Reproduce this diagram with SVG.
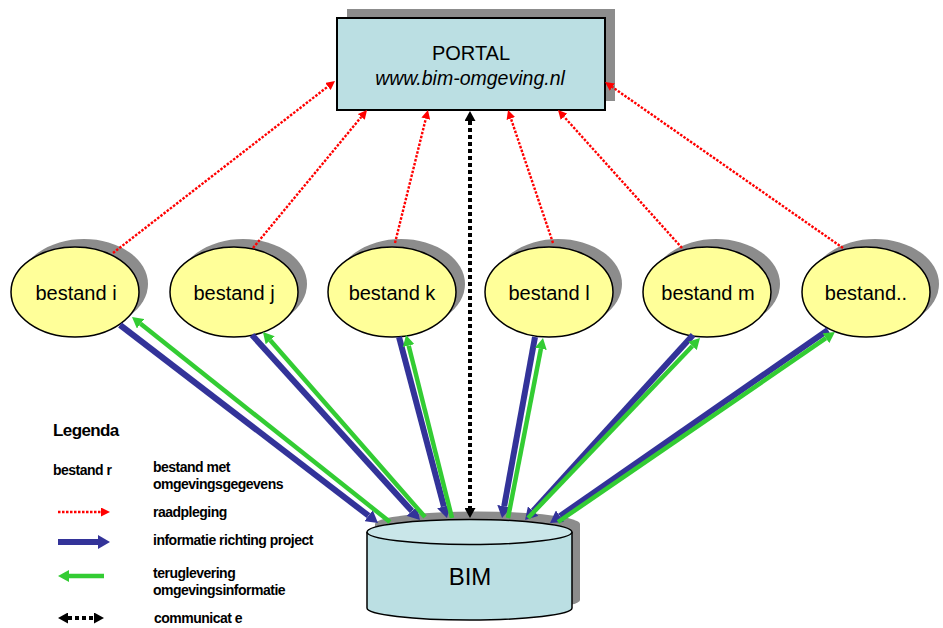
<svg xmlns="http://www.w3.org/2000/svg" width="943" height="628" viewBox="0 0 943 628">
  <defs>
    <style>
      .shadow { fill: #8c8c8c; }
      .portal { fill: #bbdfe3; stroke: #000; stroke-width: 2; }
      .file { fill: #ffff99; stroke: #000; stroke-width: 1.5; }
      .db { fill: #bbdfe3; stroke: #000; stroke-width: 1.5; }
      .dbtop { fill: #c9e6e9; stroke: #000; stroke-width: 1.5; }
      .label { font-family: "Liberation Sans", Arial, sans-serif; fill: #000; text-anchor: middle; }
      .legend { font-family: "Liberation Sans", Arial, sans-serif; font-weight: bold; fill: #000; font-size: 14px; letter-spacing: -0.5px; }
      .legend.title { font-size: 17px; letter-spacing: -0.6px; }
      .query { stroke: #ff0000; stroke-width: 2.4; stroke-dasharray: 2.5 1.5; fill: none; marker-end: url(#arRed); }
      .toproj { stroke: #333399; stroke-width: 6; fill: none; marker-end: url(#arBlue); }
      .back { stroke: #33cc33; stroke-width: 4.5; fill: none; marker-end: url(#arGreen); }
      .comm { stroke: #000; stroke-width: 4; stroke-dasharray: 4 3; fill: none; marker-start: url(#arBlack); marker-end: url(#arBlack); }
    </style>
    <marker id="arRed" markerUnits="userSpaceOnUse" markerWidth="9" markerHeight="9" refX="0" refY="4.5" orient="auto">
      <path d="M0,0 L9,4.5 L0,9 z" fill="#ff0000"/>
    </marker>
    <marker id="arBlue" markerUnits="userSpaceOnUse" markerWidth="12" markerHeight="14" refX="0" refY="7" orient="auto">
      <path d="M0,0 L12,7 L0,14 z" fill="#333399"/>
    </marker>
    <marker id="arGreen" markerUnits="userSpaceOnUse" markerWidth="11" markerHeight="12" refX="0" refY="6" orient="auto">
      <path d="M0,0 L11,6 L0,12 z" fill="#33cc33"/>
    </marker>
    <marker id="arBlack" markerUnits="userSpaceOnUse" markerWidth="10" markerHeight="11" refX="0" refY="5.5" orient="auto-start-reverse">
      <path d="M0,0 L10,5.5 L0,11 z" fill="#000"/>
    </marker>
  </defs>

  <rect width="943" height="628" fill="#fff"/>

  <!-- portal -->
  <g id="portal">
    <rect class="shadow" x="347" y="9" width="268" height="92"/>
    <rect class="portal" x="337" y="18" width="268" height="92"/>
    <text class="label" x="471" y="60" font-size="20">PORTAL</text>
    <text class="label" x="470" y="85" font-size="19.5" font-style="italic">www.bim-omgeving.nl</text>
  </g>

  <!-- data files -->
  <g id="bestand-i">
    <ellipse class="shadow" cx="84" cy="284" rx="64" ry="45"/>
    <ellipse class="file" cx="75" cy="292" rx="64" ry="45"/>
    <text class="label" x="76" y="300" font-size="20">bestand i</text>
  </g>
  <g id="bestand-j">
    <ellipse class="shadow" cx="243" cy="284" rx="64" ry="45"/>
    <ellipse class="file" cx="234" cy="292" rx="64" ry="45"/>
    <text class="label" x="234" y="300" font-size="20">bestand j</text>
  </g>
  <g id="bestand-k">
    <ellipse class="shadow" cx="401" cy="284" rx="64" ry="45"/>
    <ellipse class="file" cx="392" cy="292" rx="64" ry="45"/>
    <text class="label" x="392" y="300" font-size="20">bestand k</text>
  </g>
  <g id="bestand-l">
    <ellipse class="shadow" cx="558" cy="284" rx="64" ry="45"/>
    <ellipse class="file" cx="549" cy="292" rx="64" ry="45"/>
    <text class="label" x="549" y="300" font-size="20">bestand l</text>
  </g>
  <g id="bestand-m">
    <ellipse class="shadow" cx="716" cy="284" rx="64" ry="45"/>
    <ellipse class="file" cx="707" cy="292" rx="64" ry="45"/>
    <text class="label" x="708" y="300" font-size="20">bestand m</text>
  </g>
  <g id="bestand-more">
    <ellipse class="shadow" cx="875" cy="284" rx="64" ry="45"/>
    <ellipse class="file" cx="866" cy="292" rx="64" ry="45"/>
    <text class="label" x="866" y="300" font-size="20">bestand..</text>
  </g>

  <!-- BIM database cylinder -->
  <g id="bim">
    <path class="shadow" d="M375,524 A102.5,12.5 0 0 1 580,524 L580,600 A102.5,12 0 0 1 375,600 z"/>
    <path class="db" d="M367,532 L367,608 A102.5,12 0 0 0 572,608 L572,532"/>
    <ellipse class="dbtop" cx="469.5" cy="532" rx="102.5" ry="12.5"/>
    <text class="label" x="470" y="585" font-size="24">BIM</text>
  </g>

  <!-- connectors -->
  <g id="connectors">
    <!-- consultation: file -> portal -->
    <line class="query" x1="113" y1="253" x2="327.9" y2="86.5"/>
    <line class="query" x1="253" y1="248" x2="361.3" y2="116.9"/>
    <line class="query" x1="395" y1="243" x2="425.8" y2="118.7"/>
    <line class="query" x1="553" y1="243" x2="510.9" y2="118.5"/>
    <line class="query" x1="682" y1="248" x2="564.0" y2="116.7"/>
    <line class="query" x1="843" y1="248" x2="612.4" y2="87.1"/>

    <!-- information towards the project: file -> BIM -->
    <line class="toproj" x1="120" y1="325" x2="368.5" y2="515.7"/>
    <line class="toproj" x1="252" y1="335" x2="411.9" y2="511.1"/>
    <line class="toproj" x1="399" y1="337" x2="443.9" y2="506.4"/>
    <line class="toproj" x1="535" y1="337" x2="504.2" y2="506.2"/>
    <line class="toproj" x1="693" y1="335" x2="533.1" y2="511.1"/>
    <line class="toproj" x1="828" y1="330" x2="559.9" y2="516.2"/>

    <!-- delivery back: BIM -> file -->
    <line class="back" x1="390" y1="522" x2="140.6" y2="323.8"/>
    <line class="back" x1="425" y1="517" x2="270.2" y2="340.3"/>
    <line class="back" x1="452" y1="518" x2="408.7" y2="345.7"/>
    <line class="back" x1="508" y1="518" x2="540.9" y2="348.8"/>
    <line class="back" x1="528" y1="518" x2="692.4" y2="346.0"/>
    <line class="back" x1="558" y1="522" x2="825.9" y2="338.2"/>

    <!-- communication portal <-> BIM -->
    <line class="comm" x1="470" y1="121" x2="470" y2="508"/>
  </g>

  <!-- legend -->
  <g id="legend">
    <text class="legend title" x="53" y="436">Legenda</text>
    <text class="legend" x="53" y="475">bestand r</text>
    <text class="legend" x="153" y="472">bestand met</text>
    <text class="legend" x="153" y="489">omgevingsgegevens</text>

    <line class="query" x1="58" y1="512" x2="101" y2="512"/>
    <text class="legend" x="153" y="517">raadpleging</text>

    <line class="toproj" x1="58" y1="542" x2="98" y2="542" stroke-width="7"/>
    <text class="legend" x="153" y="545">informatie richting project</text>

    <line class="back" x1="104" y1="576" x2="69" y2="576" stroke-width="5"/>
    <text class="legend" x="153" y="578">teruglevering</text>
    <text class="legend" x="153" y="595">omgevingsinformatie</text>

    <line class="comm" x1="68" y1="618" x2="94" y2="618"/>
    <text class="legend" x="154" y="623">communicat e</text>
  </g>
</svg>
